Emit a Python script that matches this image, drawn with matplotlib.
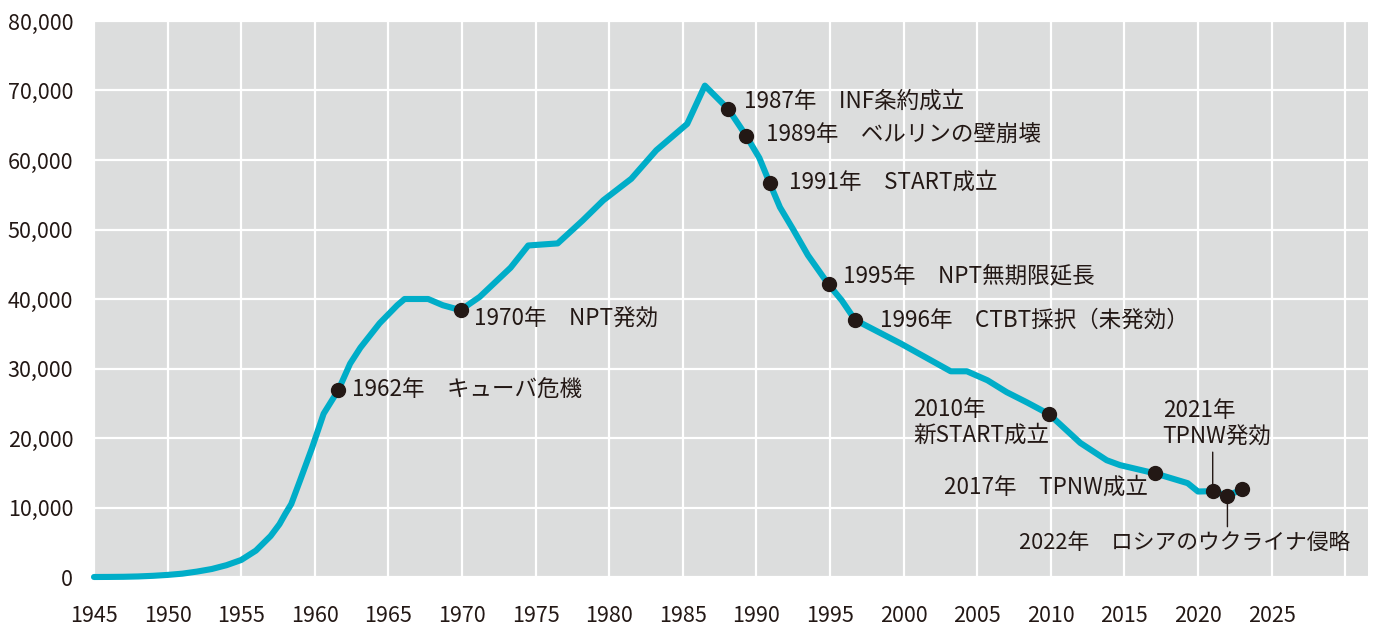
import matplotlib
matplotlib.use("Agg")
import matplotlib.pyplot as plt
from matplotlib.ticker import FuncFormatter

plt.rcParams['font.family'] = ['Noto Sans CJK JP', 'DejaVu Sans']

# ---- data ----
years = [1945, 1946, 1947, 1948, 1949, 1950, 1951, 1952, 1953, 1954, 1955,
         1956, 1957, 1957.6, 1958, 1958.4, 1959,
         1959.8, 1960.6, 1961.6, 1962.4, 1963.1, 1964.4, 1965.6, 1966.1,
         1967.7, 1968.7, 1969.9, 1971.2, 1973.3, 1974.5, 1976.5, 1978.2,
         1979.6, 1981.5, 1983.2, 1985.3, 1986.5, 1988.1, 1989.3, 1990.2,
         1990.9, 1991.6, 1992.5, 1993.5, 1994.9, 1995.8, 1996.7, 1999.8,
         2003.2, 2004.3, 2005.7, 2007.0, 2008.4, 2009.9, 2012.0, 2013.8,
         2014.7, 2017.1, 2019.3, 2020.0, 2021.0, 2022.0, 2023.0]
warheads = [0, 10, 30, 80, 170, 300, 480, 780, 1150, 1700, 2450,
            3800, 5900, 7600, 9100, 10500, 13900,
            18500, 23500, 26900, 30700, 33000, 36500, 39100, 40000,
            40000, 39100, 38400, 40300, 44500, 47700, 48000, 51300,
            54200, 57300, 61400, 65200, 70700, 67300, 63500, 60300,
            56700, 53200, 50000, 46300, 42100, 39800, 37000, 33600,
            29600, 29600, 28300, 26600, 25100, 23400, 19300, 16800,
            16100, 14900, 13500, 12300, 12350, 11700, 12600]

event_years = [1961.6, 1969.9, 1988.1, 1989.3, 1990.9, 1994.9, 1996.7,
               2009.9, 2017.1, 2021.0, 2022.0, 2023.0]
event_values = [26900, 38400, 67300, 63500, 56700, 42100, 37000,
                23400, 14900, 12350, 11700, 12600]
event_labels = ["1962年　キューバ危機", "1970年　NPT発効", "1987年　INF条約成立",
                "1989年　ベルリンの壁崩壊", "1991年　START成立",
                "1995年　NPT無期限延長", "1996年　CTBT採択（未発効）",
                "2010年\n新START成立", "2017年　TPNW成立",
                "2021年\nTPNW発効", "2022年　ロシアのウクライナ侵略", ""]

x_ticks = list(range(1945, 2030, 5))
x_grid = list(range(1945, 2031, 5))
y_ticks = list(range(0, 80001, 10000))

# ---- styles ----
LINE = '#00adc8'
DOT = '#231815'
TXT = '#231815'
BG = '#dcdddd'

fig = plt.figure(figsize=(13.75, 6.27), dpi=100)
ax = fig.add_axes([94 / 1375, 50 / 627, 1274 / 1375, 556 / 627])
ax.set_facecolor(BG)
for s in ax.spines.values():
    s.set_visible(False)

ax.set_xlim(1945, 2031.55)
ax.set_ylim(0, 80000)

for g in x_grid:
    ax.axvline(g, color='white', lw=1.6, zorder=1)
for g in y_ticks:
    ax.axhline(g, color='white', lw=1.6, zorder=1)

ax.set_xticks(x_ticks)
ax.set_xticklabels([str(t) for t in x_ticks])
ax.set_yticks(y_ticks)
ax.yaxis.set_major_formatter(FuncFormatter(lambda v, p: f"{int(v):,}"))
ax.tick_params(axis='both', length=0, labelsize=15.5, colors=TXT)
ax.tick_params(axis='x', pad=20.5)
ax.tick_params(axis='y', pad=15)
ax.grid(False)

ax.plot(years, warheads, color=LINE, lw=4.4, solid_joinstyle='round',
        solid_capstyle='round', zorder=3, clip_on=False)
ax.plot(event_years, event_values, 'o', color=DOT, ms=10, zorder=4,
        clip_on=False)

# label placement (pixel offsets from the dot), alignment, size
offsets = [(14, 0, 'left', 16.2), (13, -9, 'left', 16.2), (16, 8, 'left', 16.2),
           (20, 0, 'left', 16.2), (19, 1, 'left', 16.2), (14, 9, 'left', 16.2),
           (25, 0, 'left', 16.2), (-136, -8, 'left', 16.2),
           (-7, -14, 'right', 16.2), (-50, 67, 'left', 16.2),
           (-208, -47, 'left', 15.7), (0, 0, 'left', 16.2)]

for x, y, lab, (dx, dy, ha, fs) in zip(event_years, event_values, event_labels, offsets):
    if not lab:
        continue
    ax.annotate(lab, xy=(x, y), xytext=(dx, dy), textcoords='offset pixels',
                ha=ha, va='center', fontsize=fs, color=TXT,
                linespacing=1.2, zorder=5, annotation_clip=False)

# leader lines for 2021 and 2022
ax.annotate('', xy=(event_years[9], event_values[9]), xytext=(0, 39),
            textcoords='offset pixels',
            arrowprops=dict(arrowstyle='-', color=TXT, lw=1.0,
                            shrinkA=0, shrinkB=0), zorder=3)
ax.annotate('', xy=(event_years[10], event_values[10]), xytext=(0, -31),
            textcoords='offset pixels',
            arrowprops=dict(arrowstyle='-', color=TXT, lw=1.0,
                            shrinkA=0, shrinkB=0), zorder=3)

fig.savefig('out.png', dpi=100)
